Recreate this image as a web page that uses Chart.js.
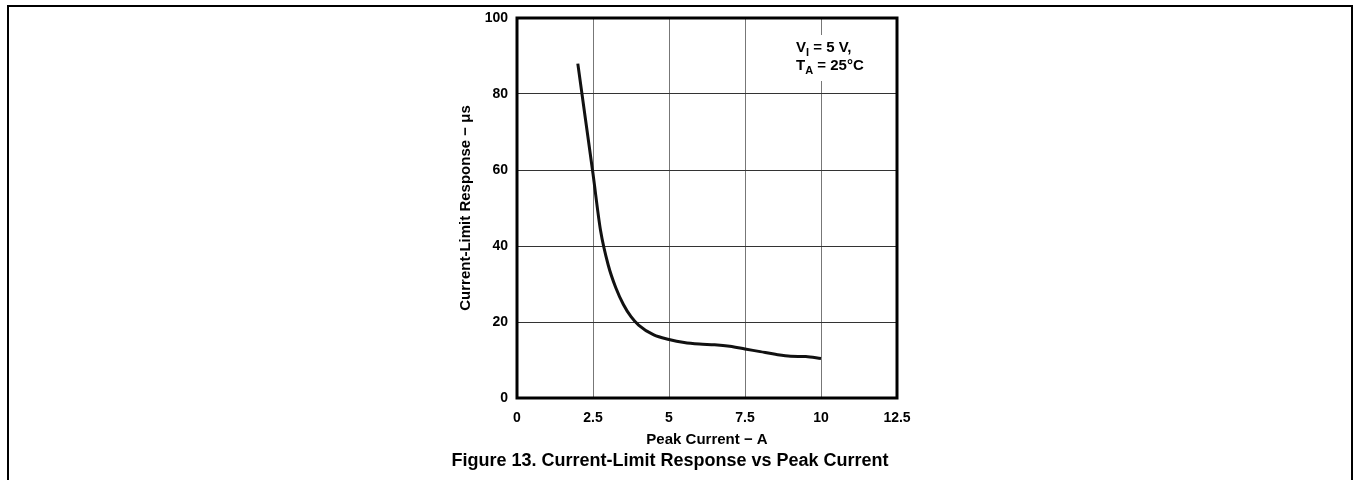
<!DOCTYPE html>
<html>
<head>
<meta charset="utf-8">
<script src="https://cdn.jsdelivr.net/npm/chart.js@4"></script>
<style>
    html, body { margin: 0; padding: 0; background: #fff; }
    #marco {
        position: absolute; left: 7px; top: 5px; width: 1342px; height: 480px;
        border-top: 2px solid #000; border-left: 2px solid #000; border-right: 2px solid #000;
    }
    #lienzo { position: absolute; left: 0; top: 0; }
</style>
</head>
<body>
<div id="marco"></div>
<canvas id="lienzo" width="1353" height="480"></canvas>
<script>
// Datos
const corrientePico = [2, 2.25, 2.5, 2.75, 3, 3.25, 3.5, 3.75, 4, 4.5, 5, 5.5, 6, 6.5, 7, 7.5, 8, 8.5, 9, 9.5, 10];
const respuesta = [88, 73.5, 59, 44, 35, 29, 24.6, 21.4, 19.2, 16.6, 15.4, 14.6, 14.2, 14.0, 13.6, 12.9, 12.2, 11.5, 11.0, 10.9, 10.4];
const ticksX = [0, 2.5, 5, 7.5, 10, 12.5];
const ticksY = [0, 20, 40, 60, 80, 100];

const fuente = 'Liberation Sans, Arial, sans-serif';

// Recuadro, nota de condiciones y pie de figura
const extras = {
    id: 'extras',
    afterDraw(chart) {
        const ctx = chart.ctx;
        const a = chart.chartArea;
        ctx.save();
        ctx.strokeStyle = '#000';
        ctx.lineWidth = 3;
        ctx.strokeRect(a.left, a.top, a.right - a.left, a.bottom - a.top);

        // nota
        ctx.fillStyle = '#fff';
        ctx.fillRect(790, 35, 92, 46);
        ctx.fillStyle = '#000';
        ctx.textBaseline = 'alphabetic';
        ctx.textAlign = 'left';
        function linea(x, y, base, sub, resto) {
            ctx.font = 'bold 15px ' + fuente;
            ctx.fillText(base, x, y);
            x += ctx.measureText(base).width;
            ctx.font = 'bold 11px ' + fuente;
            ctx.fillText(sub, x, y + 4);
            x += ctx.measureText(sub).width;
            ctx.font = 'bold 15px ' + fuente;
            ctx.fillText(resto, x, y);
        }
        linea(796, 52, 'V', 'I', ' = 5 V,');
        linea(796, 70, 'T', 'A', ' = 25°C');

        // pie
        ctx.font = 'bold 18px ' + fuente;
        ctx.textAlign = 'center';
        ctx.textBaseline = 'middle';
        ctx.fillText('Figure 13. Current-Limit Response vs Peak Current', 670, 461);
        ctx.restore();
    }
};

new Chart(document.getElementById('lienzo'), {
    type: 'line',
    data: {
        datasets: [{
            data: corrientePico.map((x, i) => ({ x: x, y: respuesta[i] })),
            borderColor: '#111',
            borderWidth: 3,
            pointRadius: 0,
            fill: false,
            cubicInterpolationMode: 'monotone'
        }]
    },
    options: {
        responsive: false,
        animation: false,
        layout: { padding: { left: 453, right: 456, top: 18, bottom: 27 } },
        plugins: { legend: { display: false }, tooltip: { enabled: false } },
        scales: {
            x: {
                type: 'linear',
                min: 0,
                max: 12.5,
                afterBuildTicks: s => { s.ticks = ticksX.map(v => ({ value: v })); },
                afterFit: s => { s.height = 55; s.paddingLeft = 0; s.paddingRight = 0; },
                ticks: {
                    color: '#000',
                    font: { family: fuente, size: 14, weight: 'bold' },
                    padding: 12,
                    maxRotation: 0
                },
                grid: { color: '#777', lineWidth: 1, drawTicks: false },
                border: { display: false },
                title: {
                    display: true,
                    text: 'Peak Current − A',
                    color: '#000',
                    font: { family: fuente, size: 15, weight: 'bold' },
                    padding: { top: 4, bottom: 4 }
                }
            },
            y: {
                min: 0,
                max: 100,
                afterBuildTicks: s => { s.ticks = ticksY.map(v => ({ value: v })); },
                afterFit: s => { s.width = 64; s.paddingTop = 0; s.paddingBottom = 0; },
                ticks: {
                    color: '#000',
                    font: { family: fuente, size: 14, weight: 'bold' },
                    padding: 9
                },
                grid: { color: '#333', lineWidth: 1, drawTicks: false },
                border: { display: false },
                title: {
                    display: true,
                    text: 'Current-Limit Response − μs',
                    color: '#000',
                    font: { family: fuente, size: 15, weight: 'bold' },
                    padding: { top: 4, bottom: 4 }
                }
            }
        }
    },
    plugins: [extras]
});
</script>
</body>
</html>
